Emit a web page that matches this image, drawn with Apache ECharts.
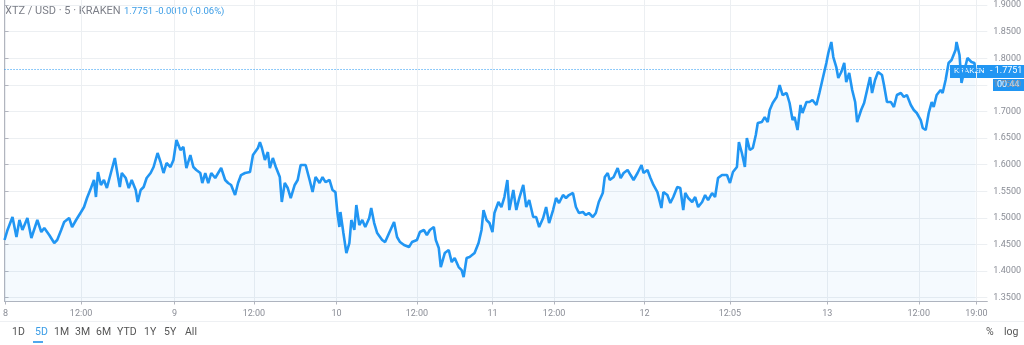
<!DOCTYPE html>
<html><head><meta charset="utf-8">
<script src="https://cdn.jsdelivr.net/npm/echarts@6/dist/echarts.min.js"></script>
<style>html,body{margin:0;padding:0;background:#fff}#c{width:1024px;height:345px}</style>
</head><body><div id="c"></div>
<script>
// bar position along the time axis and close price
const barPos = [0,3,8,12,15,18,23,27,33,37,40,45,50,53,57,60,65,68,72,77,80,83,87,90,92,94,97,100,103,107,111,113,116,118,122,125,128,132,134,137,140,143,147,150,154,157,160,163,167,170,173,177,180,183,187,190,193,197,199,202,205,208,212,215,218,222,225,228,232,235,238,242,247,250,255,257,259,262,265,267,270,273,277,279,282,285,288,292,295,298,303,307,310,313,317,320,323,327,330,333,335,337,338,341,344,347,349,352,354,357,360,363,367,369,372,375,380,383,387,392,395,398,402,407,410,415,418,422,425,428,432,434,437,439,443,447,450,453,457,460,462,465,468,473,477,480,482,485,488,491,493,497,500,503,506,508,512,515,518,522,525,528,532,535,538,542,545,548,552,555,558,562,565,568,572,575,578,582,585,588,592,595,598,602,604,607,609,613,617,620,623,627,630,633,637,641,643,647,650,653,657,661,663,667,670,673,677,680,683,685,688,692,695,698,702,705,708,712,715,718,722,727,730,733,737,739,742,745,747,750,753,756,758,762,765,768,770,773,777,780,783,787,790,793,795,798,801,803,807,810,813,817,820,823,827,829,832,834,837,839,842,845,847,850,853,856,858,862,865,868,871,873,876,879,883,885,888,892,895,898,902,905,908,912,915,918,922,924,927,930,933,935,938,942,944,947,950,953,957,958,961,963,966,969,973,976,977];
const price = [1.4585,1.4773,1.5017,1.4641,1.4961,1.4773,1.4998,1.4622,1.4961,1.4735,1.4810,1.4679,1.4528,1.4585,1.4773,1.4923,1.4998,1.4829,1.4961,1.5111,1.5205,1.5374,1.5562,1.5713,1.5393,1.5863,1.5619,1.5713,1.5562,1.5844,1.6126,1.5901,1.5581,1.5844,1.5750,1.5562,1.5713,1.5525,1.5299,1.5525,1.5581,1.5750,1.5844,1.5957,1.6220,1.6051,1.5844,1.6032,1.5957,1.6088,1.6464,1.6276,1.6333,1.5938,1.6182,1.5957,1.5901,1.5844,1.5656,1.5844,1.5656,1.5844,1.5750,1.5844,1.5938,1.5713,1.5656,1.5619,1.5430,1.5656,1.5806,1.5844,1.5863,1.6182,1.6314,1.6426,1.6314,1.6088,1.6238,1.5938,1.6126,1.5957,1.5768,1.5299,1.5656,1.5562,1.5374,1.5619,1.5713,1.5994,1.5994,1.5713,1.5486,1.5768,1.5656,1.5768,1.5674,1.5713,1.5525,1.5486,1.5092,1.4829,1.5111,1.4716,1.4340,1.4528,1.4961,1.4773,1.5242,1.4866,1.4961,1.4829,1.4998,1.5186,1.4904,1.4716,1.4585,1.4546,1.4716,1.4923,1.4641,1.4546,1.4490,1.4452,1.4546,1.4585,1.4735,1.4773,1.4679,1.4773,1.4829,1.4585,1.4434,1.4076,1.4340,1.4396,1.4170,1.4246,1.4076,1.4020,1.3888,1.4246,1.4264,1.4340,1.4528,1.4773,1.5148,1.4961,1.4904,1.4735,1.5092,1.5299,1.5205,1.5393,1.5713,1.5148,1.5525,1.5148,1.5374,1.5619,1.5205,1.5336,1.5017,1.5017,1.4829,1.4998,1.5205,1.4904,1.5148,1.5374,1.5280,1.5430,1.5374,1.5430,1.5468,1.5205,1.5092,1.5111,1.5054,1.5092,1.5017,1.5092,1.5299,1.5468,1.5768,1.5844,1.5713,1.5768,1.5938,1.5750,1.5844,1.5901,1.5806,1.5713,1.5844,1.5994,1.5844,1.5901,1.5750,1.5619,1.5486,1.5186,1.5486,1.5430,1.5280,1.5393,1.5581,1.5562,1.5148,1.5468,1.5374,1.5299,1.5393,1.5205,1.5299,1.5430,1.5336,1.5468,1.5393,1.5750,1.5806,1.5806,1.5656,1.5863,1.5957,1.6426,1.6220,1.5957,1.6502,1.6276,1.6314,1.6558,1.6784,1.6802,1.6896,1.6802,1.7028,1.7160,1.7272,1.7498,1.7310,1.7348,1.7160,1.6840,1.6896,1.6652,1.7122,1.6972,1.7178,1.7178,1.7216,1.7122,1.7348,1.7592,1.7912,1.8100,1.8306,1.8024,1.7836,1.7630,1.7742,1.7912,1.7554,1.7724,1.7404,1.7178,1.6802,1.7028,1.7160,1.7404,1.7648,1.7348,1.7592,1.7742,1.7686,1.7498,1.7178,1.7178,1.7084,1.7310,1.7348,1.7272,1.7310,1.7122,1.7028,1.6972,1.6840,1.6690,1.6652,1.6972,1.7178,1.7084,1.7310,1.7404,1.7348,1.7592,1.7912,1.7968,1.8156,1.8306,1.8062,1.7536,1.7780,1.8006,1.7930,1.7912,1.7751];
const timeTickPos = [1,77,171,251,334,415,491,553,644,730,828,920,978];
const timeTickLabels = ['8','12:00','9','12:00','10','12:00','11','12:00','12','12:05','13','12:00','19:00'];
const priceTicks = [1.35,1.40,1.45,1.50,1.55,1.60,1.65,1.70,1.75,1.80,1.85,1.90];
const lastPrice = 1.7751;
const header = 'XTZ / USD · 5 · KRAKEN';
const headerQuote = '1.7751 -0.0010 (-0.06%)';
const ranges = ['1D','5D','1M','3M','6M','YTD','1Y','5Y','All'];

const blue = '#2196f3';
const gridCol = '#eceff2';
const txt = '#8a8d96';
const font = 'Roboto, "Noto Sans", sans-serif';

const chart = echarts.init(document.getElementById('c'), null, {renderer:'canvas'});
const rangeX = [12,35,54,75,96,117,144,164,185];
const graphics = [
  {type:'text', left:5, top:6, style:{text:header, fill:'#7b7e87', font:'11px '+font}},
  {type:'text', left:124, top:7, style:{text:headerQuote, fill:'#3c9de6', font:'9.5px '+font}},
  {type:'line', shape:{x1:0,y1:321.5,x2:1024,y2:321.5}, style:{stroke:'#eef0f3',lineWidth:1}},
  {type:'rect', shape:{x:33,y:341,width:10,height:2}, style:{fill:'#4ea7ee'}},
  {type:'text', left:986, top:327, style:{text:'%', fill:'#555', font:'10.5px '+font}},
  {type:'text', left:1004, top:327, style:{text:'log', fill:'#555', font:'10.5px '+font}},
  {type:'rect', shape:{x:950,y:65,width:74,height:13}, style:{fill:blue}},
  {type:'text', left:954, top:67, style:{text:'KRAKEN', fill:'#fff', font:'8px '+font}},
  {type:'text', left:990, top:66.5, style:{text:'- '+lastPrice.toFixed(4), fill:'#fff', font:'9px '+font}},
  {type:'rect', shape:{x:993,y:79,width:31,height:12}, style:{fill:blue}},
  {type:'text', left:997, top:80.5, style:{text:'00:44', fill:'#fff', font:'9px '+font}}
];
ranges.forEach((r,i)=>graphics.push({type:'text', left:rangeX[i], top:327,
  style:{text:r, fill: r==='5D' ? '#3c9de6' : '#555', font:'10.5px '+font}}));

chart.setOption({
  animation:false,
  grid:{left:0, right:35, top:0, bottom:43.5, containLabel:false},
  xAxis:{
    type:'value', min:0, max:989,
    axisLine:{show:true, lineStyle:{color:'#b2b5be', width:1}},
    axisTick:{show:true, customValues:timeTickPos, length:3, lineStyle:{color:'#b2b5be'}},
    axisLabel:{customValues:timeTickPos, color:txt, fontSize:9, fontFamily:font, margin:8,
      formatter:v=>timeTickLabels[timeTickPos.indexOf(v)] ?? ''},
    splitLine:{show:true, lineStyle:{color:gridCol, width:1}}
  },
  yAxis:{
    type:'value', position:'right', min:1.3429, max:1.9096,
    axisLine:{show:true, lineStyle:{color:'#b2b5be', width:1}},
    axisTick:{show:true, customValues:priceTicks, length:4, lineStyle:{color:'#b2b5be'}},
    axisLabel:{customValues:priceTicks, color:txt, fontSize:9, fontFamily:font, margin:6,
      formatter:v=>v.toFixed(4)},
    splitLine:{show:true, lineStyle:{color:gridCol, width:1}}
  },
  series:[{
    type:'line', data:barPos.map((x,i)=>[x,price[i]]),
    showSymbol:false, symbol:'none',
    lineStyle:{color:blue, width:2.6},
    itemStyle:{color:blue},
    areaStyle:{color:'rgba(33,150,243,0.06)', origin:'start'},
    markLine:{silent:true, symbol:'none', label:{show:false},
      lineStyle:{color:blue, type:[1,2], width:1},
      data:[{yAxis:lastPrice}]}
  }],
  graphic:graphics
});
</script></body></html>
